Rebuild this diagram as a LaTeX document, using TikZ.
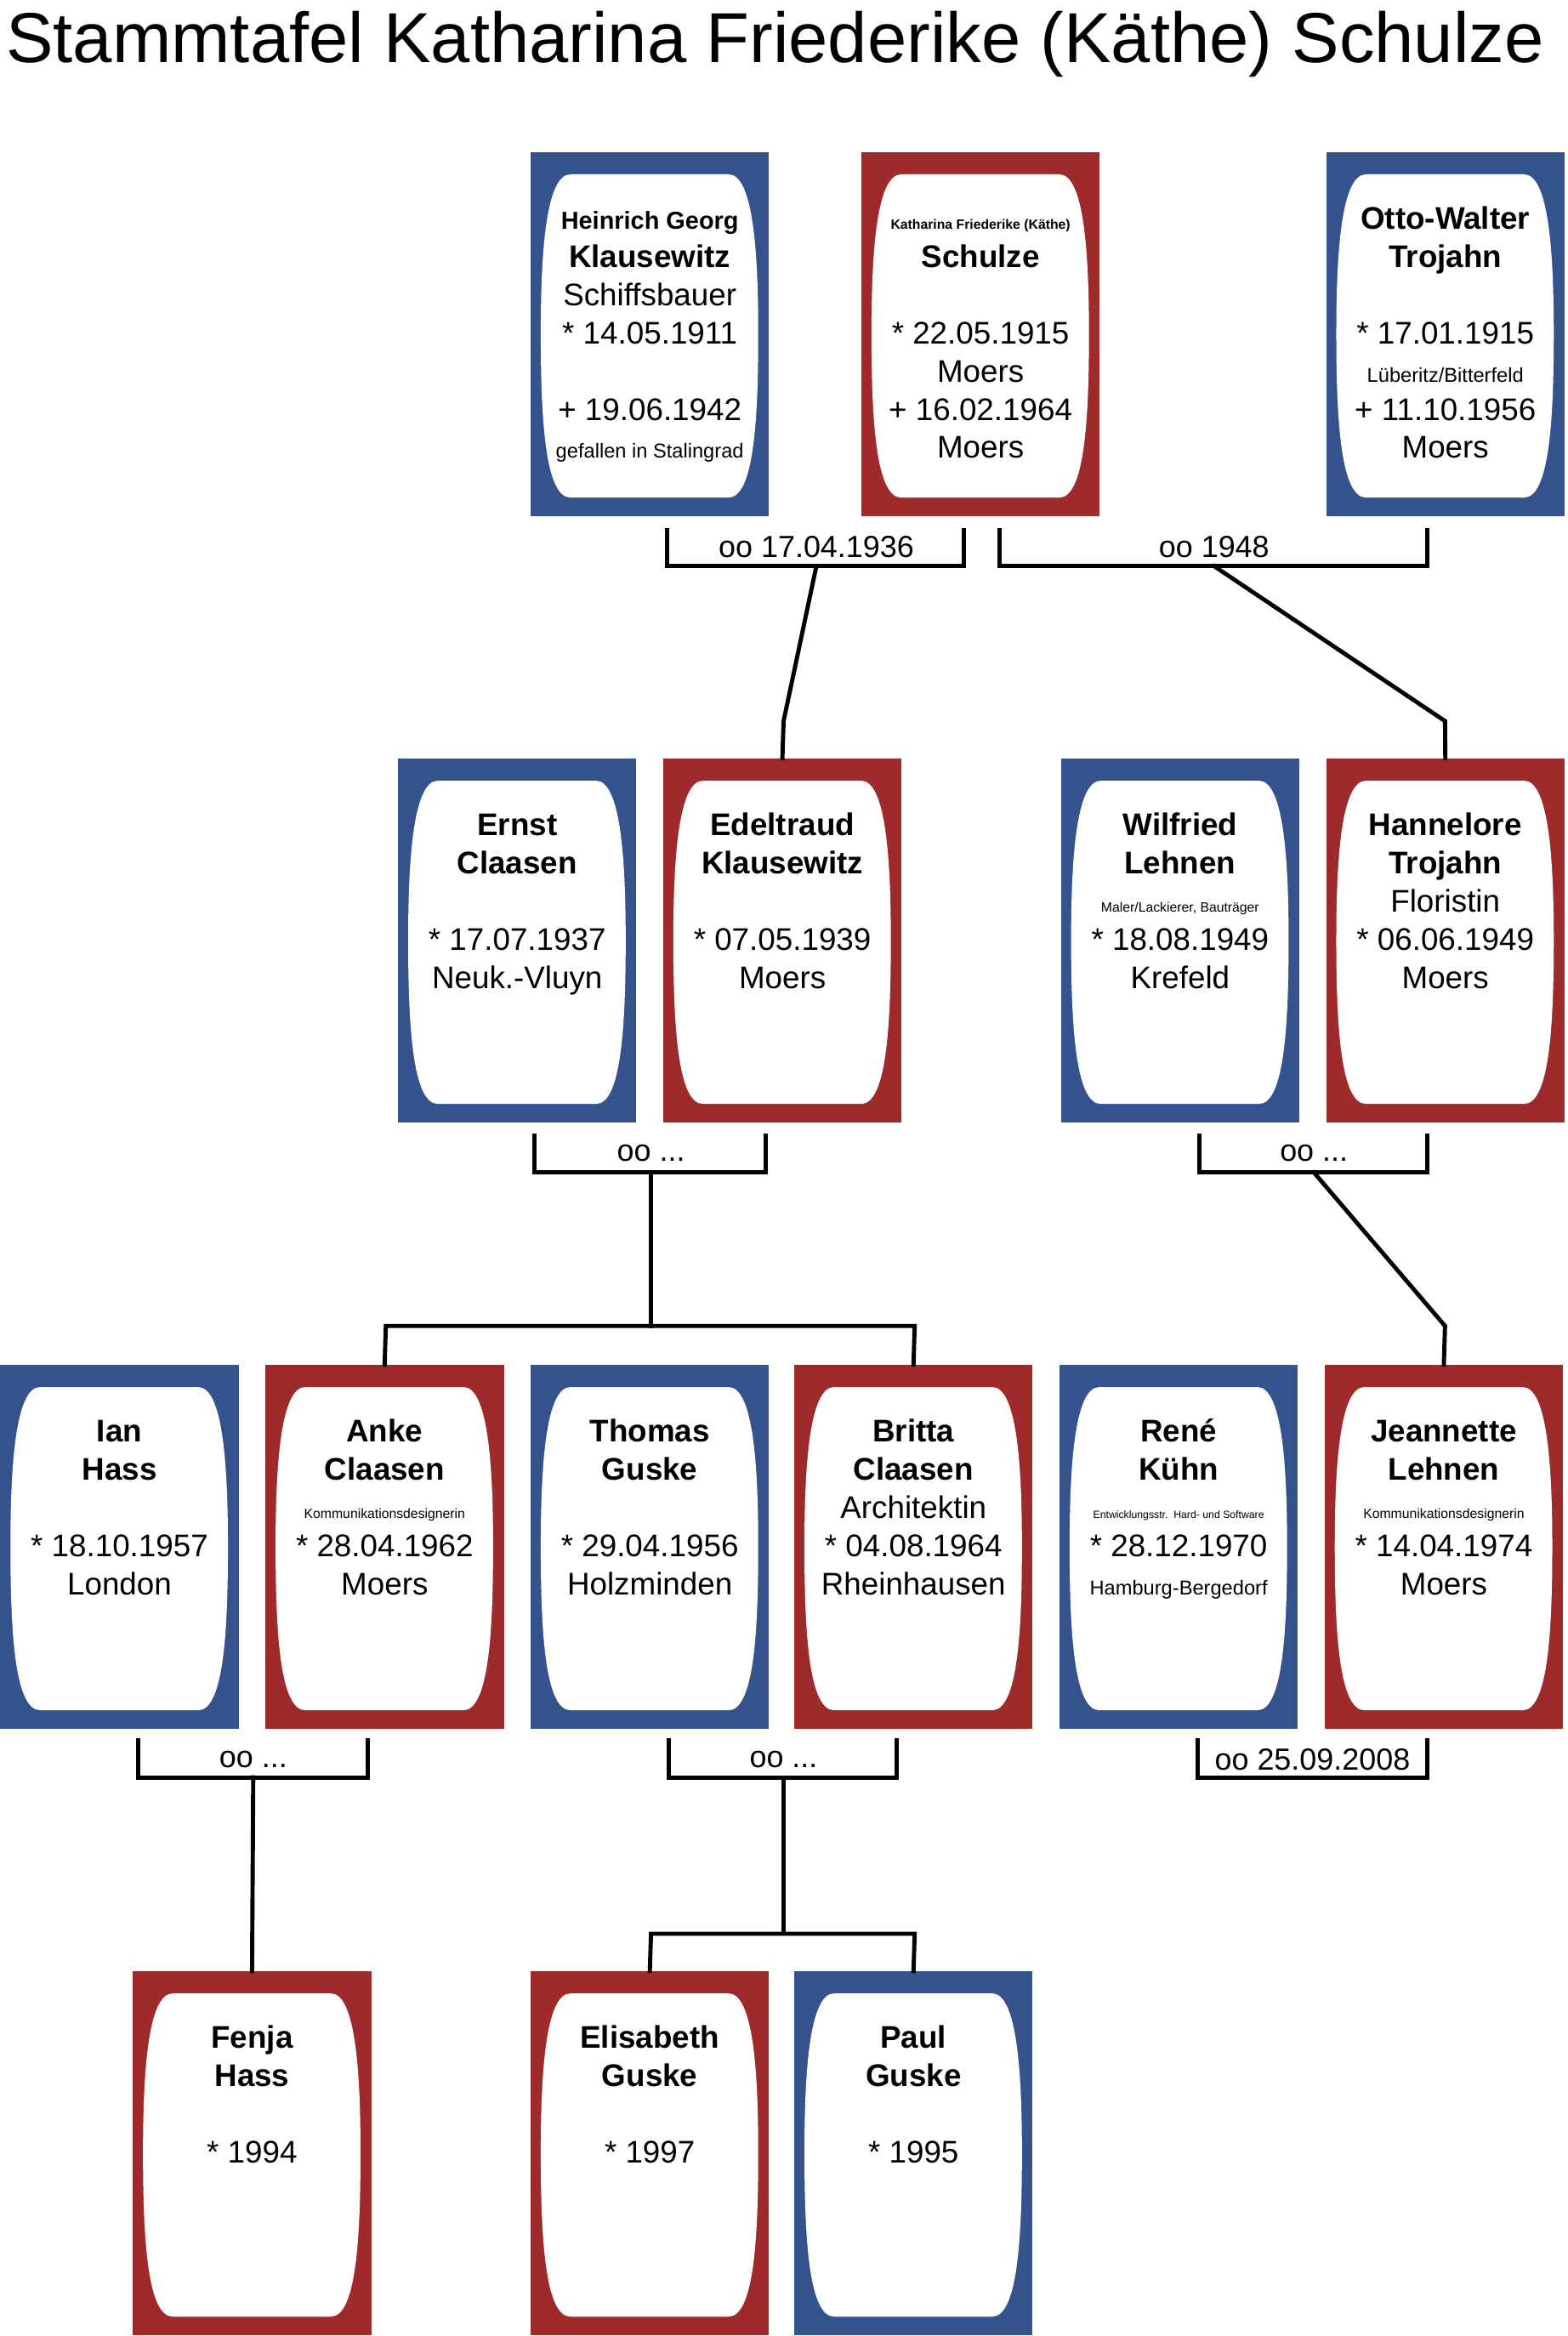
\documentclass[tikz,border=0pt]{standalone}
\usepackage{fontspec}
\setmainfont{Liberation Sans}
\usetikzlibrary{calc}
\definecolor{mblue}{HTML}{34538C}
\definecolor{fred}{HTML}{9E2A2B}
\tikzset{x=1pt,y=-1pt,
 conn/.style={line width=2.8pt,line cap=rect},
 lbl/.style={font=\fontsize{20.5}{23}\selectfont,inner sep=0pt}}
\newcommand\card[4]{%
 \node[fill=#4,minimum width=160pt,minimum height=244pt,inner sep=0pt,anchor=north west] (#1) at (#2,#3) {};
 \fill[white] ($(#1.north west)+(27,15)$) -- ($(#1.north west)+(133,15)$)
   .. controls ($(#1.north west)+(150,15)$) and ($(#1.north west)+(153,70)$) .. ($(#1.north west)+(153,122)$)
   .. controls ($(#1.north west)+(153,180)$) and ($(#1.north west)+(150,232)$) .. ($(#1.north west)+(133,232)$)
   -- ($(#1.north west)+(27,232)$)
   .. controls ($(#1.north west)+(10,232)$) and ($(#1.north west)+(7,180)$) .. ($(#1.north west)+(7,122)$)
   .. controls ($(#1.north west)+(7,70)$) and ($(#1.north west)+(10,15)$) .. cycle;}
\newcommand\tl[4]{\node[anchor=base,inner sep=0pt,font=#3] at ($(#1.north)+(0,45+25.6*#2-25.6+7)$) {#4};}
\newcommand\N{\fontsize{21}{24}\selectfont}
\newcommand\B{\fontsize{21}{24}\selectfont\bfseries}
\newcommand\sB{\fontsize{16.5}{19}\selectfont\bfseries}
\newcommand\sm{\fontsize{13.5}{15}\selectfont}
\newcommand\tn{\fontsize{9}{11}\selectfont}
\newcommand\ti{\fontsize{7}{9}\selectfont}
\begin{document}
\begin{tikzpicture}
\useasboundingbox (0,0) rectangle (1052,1568);
\node[anchor=base west,inner sep=0pt,font=\fontsize{47.5}{55}\selectfont] (title) at (4,42) {Stammtafel Katharina Friederike (Käthe) Schulze};
% row 1
\card{heinrich}{356}{102}{mblue}
\tl{heinrich}{1}{\sB}{Heinrich Georg}\tl{heinrich}{2}{\B}{Klausewitz}\tl{heinrich}{3}{\N}{Schiffsbauer}
\tl{heinrich}{4}{\N}{* 14.05.1911}\tl{heinrich}{6}{\N}{+ 19.06.1942}\tl{heinrich}{7}{\sm}{gefallen in Stalingrad}
\card{kaethe}{578}{102}{fred}
\tl{kaethe}{1}{\tn\bfseries}{Katharina Friederike (Käthe)}\tl{kaethe}{2}{\B}{Schulze}
\tl{kaethe}{4}{\N}{* 22.05.1915}\tl{kaethe}{5}{\N}{Moers}\tl{kaethe}{6}{\N}{+ 16.02.1964}\tl{kaethe}{7}{\N}{Moers}
\card{otto}{890}{102}{mblue}
\tl{otto}{1}{\B}{Otto-Walter}\tl{otto}{2}{\B}{Trojahn}
\tl{otto}{4}{\N}{* 17.01.1915}\tl{otto}{5}{\sm}{Lüberitz/Bitterfeld}\tl{otto}{6}{\N}{+ 11.10.1956}\tl{otto}{7}{\N}{Moers}
% row 2
\card{ernst}{267}{509}{mblue}
\tl{ernst}{1}{\B}{Ernst}\tl{ernst}{2}{\B}{Claasen}\tl{ernst}{4}{\N}{* 17.07.1937}\tl{ernst}{5}{\N}{Neuk.-Vluyn}
\card{edel}{445}{509}{fred}
\tl{edel}{1}{\B}{Edeltraud}\tl{edel}{2}{\B}{Klausewitz}\tl{edel}{4}{\N}{* 07.05.1939}\tl{edel}{5}{\N}{Moers}
\card{wilfried}{712}{509}{mblue}
\tl{wilfried}{1}{\B}{Wilfried}\tl{wilfried}{2}{\B}{Lehnen}\tl{wilfried}{3}{\tn}{Maler/Lackierer, Bauträger}\tl{wilfried}{4}{\N}{* 18.08.1949}\tl{wilfried}{5}{\N}{Krefeld}
\card{hanne}{890}{509}{fred}
\tl{hanne}{1}{\B}{Hannelore}\tl{hanne}{2}{\B}{Trojahn}\tl{hanne}{3}{\N}{Floristin}\tl{hanne}{4}{\N}{* 06.06.1949}\tl{hanne}{5}{\N}{Moers}
% row 3
\card{ian}{0}{916}{mblue}
\tl{ian}{1}{\B}{Ian}\tl{ian}{2}{\B}{Hass}\tl{ian}{4}{\N}{* 18.10.1957}\tl{ian}{5}{\N}{London}
\card{anke}{178}{916}{fred}
\tl{anke}{1}{\B}{Anke}\tl{anke}{2}{\B}{Claasen}\tl{anke}{3}{\tn}{Kommunikationsdesignerin}\tl{anke}{4}{\N}{* 28.04.1962}\tl{anke}{5}{\N}{Moers}
\card{thomas}{356}{916}{mblue}
\tl{thomas}{1}{\B}{Thomas}\tl{thomas}{2}{\B}{Guske}\tl{thomas}{4}{\N}{* 29.04.1956}\tl{thomas}{5}{\N}{Holzminden}
\card{britta}{533}{916}{fred}
\tl{britta}{1}{\B}{Britta}\tl{britta}{2}{\B}{Claasen}\tl{britta}{3}{\N}{Architektin}\tl{britta}{4}{\N}{* 04.08.1964}\tl{britta}{5}{\N}{Rheinhausen}
\card{rene}{711}{916}{mblue}
\tl{rene}{1}{\B}{René}\tl{rene}{2}{\B}{Kühn}\tl{rene}{3}{\ti}{Entwicklungsstr.\ \ Hard- und Software}\tl{rene}{4}{\N}{* 28.12.1970}\tl{rene}{5}{\sm}{Hamburg-Bergedorf}
\card{jeanette}{889}{916}{fred}
\tl{jeanette}{1}{\B}{Jeannette}\tl{jeanette}{2}{\B}{Lehnen}\tl{jeanette}{3}{\tn}{Kommunikationsdesignerin}\tl{jeanette}{4}{\N}{* 14.04.1974}\tl{jeanette}{5}{\N}{Moers}
% row 4
\card{fenja}{89}{1323}{fred}
\tl{fenja}{1}{\B}{Fenja}\tl{fenja}{2}{\B}{Hass}\tl{fenja}{4}{\N}{* 1994}
\card{elis}{356}{1323}{fred}
\tl{elis}{1}{\B}{Elisabeth}\tl{elis}{2}{\B}{Guske}\tl{elis}{4}{\N}{* 1997}
\card{paul}{533}{1323}{mblue}
\tl{paul}{1}{\B}{Paul}\tl{paul}{2}{\B}{Guske}\tl{paul}{4}{\N}{* 1995}
% connectors
\coordinate (m1) at (548,380);
\draw[conn] (448,356) -- (448,380) -- (647,380) -- (647,356);
\node[lbl] (l1) at (548,367) {oo 17.04.1936};
\draw[conn] (m1) -- (526,484) -- (edel.north);
\coordinate (m2) at (815,380);
\draw[conn] (671,356) -- (671,380) -- (958,380) -- (958,356);
\node[lbl] (l2) at (815,367) {oo 1948};
\draw[conn] (m2) -- (970,484) -- (hanne.north);
\coordinate (m3) at (437,787);
\draw[conn] (359,762) -- (359,787) -- (514,787) -- (514,762);
\node[lbl] (l3) at (437,774) {oo ...};
\draw[conn] (m3) -- (437,890);
\draw[conn] (anke.north) -- (259,890) -- (614,890) -- (britta.north);
\coordinate (m4) at (882,787);
\draw[conn] (805,762) -- (805,787) -- (958,787) -- (958,762);
\node[lbl] (l4) at (882,774) {oo ...};
\draw[conn] (m4) -- (970,890) -- (jeanette.north);
\coordinate (m5) at (170,1193);
\draw[conn] (93,1168) -- (93,1193) -- (247,1193) -- (247,1168);
\node[lbl] (l5) at (170,1181) {oo ...};
\draw[conn] (m5) -- (fenja.north);
\coordinate (m6) at (526,1193);
\draw[conn] (449,1168) -- (449,1193) -- (602,1193) -- (602,1168);
\node[lbl] (l6) at (526,1181) {oo ...};
\draw[conn] (m6) -- (526,1298);
\draw[conn] (elis.north) -- (437,1298) -- (614,1298) -- (paul.north);
\draw[conn] (804,1168) -- (804,1193) -- (958,1193) -- (958,1168);
\node[lbl] (l7) at (881,1181) {oo 25.09.2008};
\end{tikzpicture}
\end{document}
